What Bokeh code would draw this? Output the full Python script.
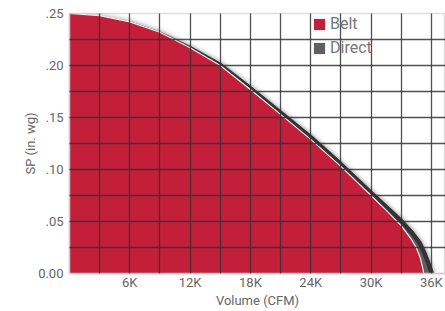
from bokeh.plotting import figure
from bokeh.models import FixedTicker, Range1d, Legend, LegendItem
from bokeh.embed import file_html
from bokeh.resources import INLINE

# ---- data ----
belt_cfm = [0, 3000, 6000, 9000, 12000, 15000, 18000, 21000, 24000, 27000,
            30000, 31500, 33000, 34000, 34500, 34900, 35100, 35250]
belt_sp = [0.250, 0.248, 0.242, 0.232, 0.217, 0.200, 0.177, 0.153, 0.129, 0.103,
           0.075, 0.061, 0.046, 0.033, 0.025, 0.015, 0.007, 0.0]

direct_cfm = [0, 3000, 6000, 9000, 12000, 15000, 18000, 21000, 24000, 27000,
              30000, 31500, 33000, 34000, 34800, 35300, 35700, 36050]
direct_sp = [0.2475, 0.2458, 0.2403, 0.2305, 0.2165, 0.2005, 0.178, 0.1545, 0.131, 0.105,
             0.0775, 0.064, 0.0505, 0.040, 0.030, 0.020, 0.010, 0.0]

x_ticks = [6000, 12000, 18000, 24000, 30000, 36000]
x_tick_labels = ["6K", "12K", "18K", "24K", "30K", "36K"]
y_ticks = [0.0, 0.05, 0.10, 0.15, 0.20, 0.25]
y_tick_labels = ["0.00", ".05", ".10", ".15", ".20", ".25"]
x_grid = [3000, 6000, 9000, 12000, 15000, 18000, 21000, 24000, 27000, 30000, 33000, 36000]
y_grid = [0.025, 0.05, 0.075, 0.10, 0.125, 0.15, 0.175, 0.20, 0.225]

RED = "#C41F3A"
TXT = "#666666"
FONT = "Roboto"

p = figure(frame_width=376, frame_height=260, output_backend="svg", toolbar_location=None,
           x_range=Range1d(0, 37410), y_range=Range1d(0, 0.25),
           min_border_left=69, min_border_right=0, min_border_top=13, min_border_bottom=36)
p.background_fill_color = "white"
p.outline_line_color = "#dddddd"
p.outline_line_width = 1.5

# shadow glow around the direct curve
for w, a in [(13, 0.04), (10, 0.06), (7.5, 0.09)]:
    p.line(direct_cfm, direct_sp, line_color="black", line_width=w, line_alpha=a)

direct_area = p.varea(x=direct_cfm, y1=0, y2=direct_sp, fill_color="#5f5f5f")
p.line(direct_cfm, direct_sp, line_color="#333333", line_width=4.5)

belt_area = p.varea(x=belt_cfm, y1=0, y2=belt_sp, fill_color=RED)
p.line(belt_cfm, belt_sp, line_color="#f2f2f2", line_width=1.2)

# grids
p.xgrid.ticker = FixedTicker(ticks=x_grid)
p.ygrid.ticker = FixedTicker(ticks=y_grid)
for g in (p.xgrid, p.ygrid):
    g.grid_line_color = "#333333"
    g.grid_line_alpha = 0.85
    g.grid_line_width = 1.3
    g.level = "overlay"

# axes
xa = p.xaxis[0]
xa.ticker = FixedTicker(ticks=x_ticks)
xa.major_label_overrides = {t: l for t, l in zip(x_ticks, x_tick_labels)}
ya = p.yaxis[0]
ya.ticker = FixedTicker(ticks=y_ticks)
ya.major_label_overrides = {t: l for t, l in zip(y_ticks, y_tick_labels)}
xa.axis_label = "Volume (CFM)"
ya.axis_label = "SP (in. wg)"
for ax in (xa, ya):
    ax.axis_line_color = "#cccccc"
    ax.axis_line_width = 1.5
    ax.major_tick_line_color = None
    ax.minor_tick_line_color = None
    ax.major_tick_out = 0
    ax.major_tick_in = 0
    ax.minor_tick_out = 0
    ax.major_label_text_font = FONT
    ax.major_label_text_font_size = "13px"
    ax.major_label_text_color = TXT
    ax.axis_label_text_font = FONT
    ax.axis_label_text_font_size = "13px"
    ax.axis_label_text_font_style = "normal"
    ax.axis_label_text_color = TXT
xa.major_label_standoff = 1
xa.axis_label_standoff = 0
ya.major_label_standoff = 6
ya.axis_label_standoff = -3

legend = Legend(items=[LegendItem(label="Belt", renderers=[belt_area]),
                       LegendItem(label="Direct", renderers=[direct_area])],
                location=(243, 216))
legend.background_fill_alpha = 0
legend.border_line_color = None
legend.padding = 0
legend.margin = 0
legend.spacing = 5
legend.glyph_width = 14
legend.glyph_height = 14
legend.label_height = 14
legend.label_standoff = 4
legend.label_text_font = FONT
legend.label_text_font_size = "16px"
legend.label_text_color = "#777777"
legend.label_text_baseline = "middle"
p.add_layout(legend)

open("out.html", "w").write(file_html(p, INLINE))
